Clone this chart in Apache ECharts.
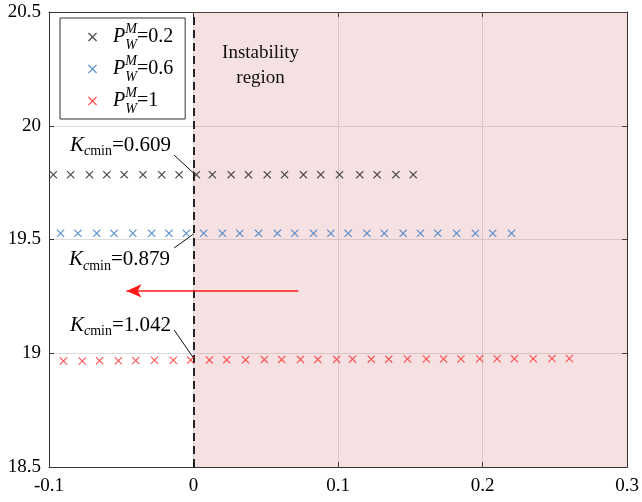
<!DOCTYPE html>
<html>
<head>
<meta charset="utf-8">
<script src="https://cdn.jsdelivr.net/npm/echarts@6/dist/echarts.min.js"></script>
<style>html,body{margin:0;padding:0;background:#fff}#c{width:642px;height:502px}</style>
</head>
<body>
<div id="c"></div>
<script>
// ---- data ----
const xTickLabels = ['-0.1', '0', '0.1', '0.2', '0.3'];
const yTickLabels = ['18.5', '19', '19.5', '20', '20.5'];

const seriesNames = ['0.2', '0.6', '1'];

const blackX = [-0.097, -0.085, -0.072, -0.060, -0.048, -0.035, -0.022, -0.010, 0.002, 0.013, 0.026,
                0.038, 0.051, 0.063, 0.076, 0.088, 0.101, 0.115, 0.127, 0.140, 0.152];
const blackY = [19.785, 19.785, 19.785, 19.785, 19.785, 19.785, 19.785, 19.785, 19.785, 19.785, 19.785,
                19.785, 19.785, 19.785, 19.785, 19.785, 19.785, 19.785, 19.785, 19.785, 19.785];

const blueX = [-0.092, -0.080, -0.067, -0.055, -0.042, -0.029, -0.017, -0.005, 0.007, 0.020, 0.032,
               0.045, 0.058, 0.070, 0.083, 0.095, 0.107, 0.120, 0.132, 0.145, 0.157, 0.169, 0.182,
               0.195, 0.207, 0.220];
const blueY = [19.527, 19.527, 19.527, 19.527, 19.527, 19.527, 19.527, 19.527, 19.527, 19.527, 19.527,
               19.527, 19.527, 19.527, 19.527, 19.527, 19.527, 19.527, 19.527, 19.527, 19.527, 19.527, 19.527,
               19.527, 19.527, 19.527];

const redX = [-0.090, -0.077, -0.065, -0.052, -0.040, -0.027, -0.014, -0.002, 0.011, 0.023, 0.036,
              0.049, 0.061, 0.074, 0.086, 0.099, 0.110, 0.123, 0.135, 0.148, 0.161, 0.173, 0.185,
              0.198, 0.210, 0.222, 0.235, 0.248, 0.260];
const redY = [18.966, 18.966, 18.967, 18.967, 18.968, 18.969, 18.969, 18.970, 18.970, 18.971, 18.971,
              18.972, 18.972, 18.973, 18.973, 18.973, 18.974, 18.974, 18.974, 18.975, 18.975, 18.975, 18.975,
              18.976, 18.976, 18.976, 18.976, 18.977, 18.977];

const kLabels = ['0.609', '0.879', '1.042'];
// annotation anchor positions (text centre, leader start, leader end) in data units
const kTextPos = [[-0.0505, 19.915], [-0.0512, 19.410], [-0.0505, 19.124]];
const kLeadFrom = [[-0.0134, 19.871], [-0.0134, 19.463], [-0.0134, 19.102]];
const kLeadTo = [[0.0, 19.792], [0.0, 19.524], [0.0, 18.979]];
const arrowFrom = [0.0725, 19.274];
const arrowTo = [-0.0464, 19.274];
const regionText = 'Instability\nregion';
const regionTextPos = [0.0464, 20.265];

// ---- helpers ----
const zip = (xs, ys) => xs.map((x, i) => [x, ys[i]]);
const CROSS = 'path://M0,1L1,0L5,4L9,0L10,1L6,5L10,9L9,10L5,6L1,10L0,9L4,5Z';
const FONT = '"Liberation Serif", "DejaVu Serif", serif';
const colors = ['#222222', '#3a7cc2', '#ff2b2b'];

const kRich = {
  k: {fontFamily: FONT, fontSize: 21, fontStyle: 'italic', color: '#000', lineHeight: 26},
  c: {fontFamily: FONT, fontSize: 14, fontStyle: 'italic', color: '#000', lineHeight: 12, verticalAlign: 'bottom'},
  mn: {fontFamily: FONT, fontSize: 14, color: '#000', lineHeight: 12, verticalAlign: 'bottom'},
  t: {fontFamily: FONT, fontSize: 21, color: '#000', lineHeight: 26}
};

const chart = echarts.init(document.getElementById('c'), null, {renderer: 'canvas'});

const axisCommon = {
  type: 'value',
  axisLine: {show: true, onZero: false, lineStyle: {color: '#333', width: 1}},
  axisTick: {show: true, inside: true, length: 5, lineStyle: {color: '#333'}},
};

const option = {
  animation: false,
  backgroundColor: '#fff',
  grid: {left: 49, right: 11, top: 12, bottom: 35, containLabel: false},
  legend: {
    orient: 'vertical',
    left: 60, top: 18,
    padding: [4, 12, 3, 28],
    itemGap: 2,
    itemWidth: 9, itemHeight: 9,
    borderColor: '#333', borderWidth: 1,
    backgroundColor: '#fff',
    data: seriesNames.map(n => 'P=' + n),
    formatter: function (name) {
      return '{p|P}{w|W}{m|M}{e|=' + name.slice(2) + '}';
    },
    textStyle: {
      rich: {
        p: {fontFamily: FONT, fontSize: 20, fontStyle: 'italic', color: '#000', lineHeight: 30, padding: [0, 0, 0, 11]},
        w: {fontFamily: FONT, fontSize: 14, fontStyle: 'italic', color: '#000', lineHeight: 13, verticalAlign: 'bottom', width: 0.01},
        m: {fontFamily: FONT, fontSize: 14, fontStyle: 'italic', color: '#000', lineHeight: 15, verticalAlign: 'top'},
        e: {fontFamily: FONT, fontSize: 20, color: '#000', lineHeight: 30}
      }
    }
  },
  xAxis: [
    Object.assign({}, axisCommon, {
      position: 'bottom', min: -0.1, max: 0.3, interval: 0.1,
      axisLabel: {fontFamily: FONT, fontSize: 19, color: '#000', margin: 10,
        formatter: (v) => xTickLabels[Math.round((v + 0.1) / 0.1)]},
      splitLine: {show: true, lineStyle: {color: '#dcdcdc', width: 1}}
    }),
    Object.assign({}, axisCommon, {
      position: 'top', min: -0.1, max: 0.3, interval: 0.1,
      axisLabel: {show: false}, splitLine: {show: false}
    })
  ],
  yAxis: [
    Object.assign({}, axisCommon, {
      position: 'left', min: 18.5, max: 20.5, interval: 0.5,
      axisLabel: {fontFamily: FONT, fontSize: 19, color: '#000', margin: 8,
        formatter: (v) => yTickLabels[Math.round((v - 18.5) / 0.5)]},
      splitLine: {show: true, lineStyle: {color: '#dcdcdc', width: 1}}
    }),
    Object.assign({}, axisCommon, {
      position: 'right', min: 18.5, max: 20.5, interval: 0.5,
      axisLabel: {show: false}, splitLine: {show: false}
    })
  ],
  series: [
    {
      name: 'P=' + seriesNames[0], type: 'scatter', xAxisIndex: 0, yAxisIndex: 0,
      symbol: CROSS, symbolSize: 8, itemStyle: {color: colors[0]},
      data: zip(blackX, blackY), z: 5,
      markArea: {
        silent: true,
        itemStyle: {color: 'rgba(205,100,110,0.2)'},
        data: [[{xAxis: 0}, {xAxis: 0.3}]]
      },
      markLine: {
        silent: true, symbol: 'none', label: {show: false},
        lineStyle: {color: '#111', width: 1, type: 'solid'},
        data: [
          [{coord: [0, 18.5], lineStyle: {type: [8, 5], width: 1.8, color: '#111'}}, {coord: [0, 20.5]}],
          [{coord: kLeadFrom[0]}, {coord: kLeadTo[0]}],
          [{coord: kLeadFrom[1]}, {coord: kLeadTo[1]}],
          [{coord: kLeadFrom[2]}, {coord: kLeadTo[2]}]
        ]
      },
      markPoint: {
        silent: true, symbol: 'circle', symbolSize: 0,
        data: [
          {coord: kTextPos[0], label: {show: true, position: 'inside', formatter: '{k|K}{c|c}{mn|min}{t|=' + kLabels[0] + '}', rich: kRich}},
          {coord: kTextPos[1], label: {show: true, position: 'inside', formatter: '{k|K}{c|c}{mn|min}{t|=' + kLabels[1] + '}', rich: kRich}},
          {coord: kTextPos[2], label: {show: true, position: 'inside', formatter: '{k|K}{c|c}{mn|min}{t|=' + kLabels[2] + '}', rich: kRich}},
          {coord: regionTextPos, label: {show: true, position: 'inside', formatter: regionText,
            fontFamily: FONT, fontSize: 19, lineHeight: 25, color: '#111'}}
        ]
      }
    },
    {
      name: 'P=' + seriesNames[1], type: 'scatter', xAxisIndex: 0, yAxisIndex: 0,
      symbol: CROSS, symbolSize: 8, itemStyle: {color: colors[1]},
      data: zip(blueX, blueY), z: 5
    },
    {
      name: 'P=' + seriesNames[2], type: 'scatter', xAxisIndex: 0, yAxisIndex: 0,
      symbol: CROSS, symbolSize: 8, itemStyle: {color: colors[2]},
      data: zip(redX, redY), z: 5,
      markLine: {
        silent: true, symbol: ['none', 'arrow'], symbolSize: [10, 15],
        label: {show: false},
        lineStyle: {color: '#ff1a1a', width: 1.5, type: 'solid'},
        data: [[{coord: arrowFrom}, {coord: arrowTo}]]
      }
    }
  ]
};
chart.setOption(option);
</script>
</body>
</html>
